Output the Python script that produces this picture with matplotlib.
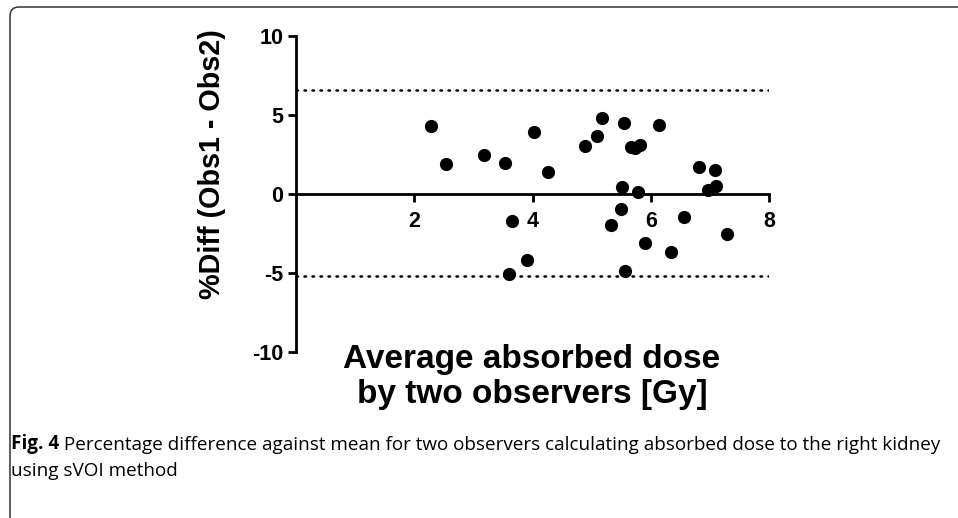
"""
Bland-Altman style plot: %Diff between two observers vs mean absorbed dose (right kidney, sVOI)
"""

import matplotlib.pyplot as plt
from matplotlib.patches import FancyBboxPatch

plt.rcParams['font.family'] = ['Liberation Sans', 'DejaVu Sans']
plt.rcParams['axes.unicode_minus'] = False

# values
mean_dose = [2.29, 2.54, 3.18, 3.54, 4.03, 4.27, 3.66, 3.90, 3.60, 4.88,
             5.09, 5.17, 5.54, 6.14, 5.66, 5.74, 5.82, 5.52, 5.79, 5.50,
             5.32, 5.56, 5.91, 6.35, 6.56, 6.82, 7.09, 7.11, 6.96, 7.29]
pct_diff = [4.28, 1.90, 2.44, 1.94, 3.94, 1.37, -1.71, -4.18, -5.06, 3.04,
            3.69, 4.81, 4.47, 4.39, 2.95, 2.91, 3.08, 0.46, 0.13, -0.95,
            -1.94, -4.90, -3.12, -3.69, -1.44, 1.71, 1.52, 0.51, 0.25, -2.53]
limits_of_agreement = [6.58, -5.17]

x_ticks = [2, 4, 6, 8]
y_ticks = [-10, -5, 0, 5, 10]

W, H = 958, 518
fig = plt.figure(figsize=(W / 100, H / 100), dpi=100)
ax = fig.add_axes([296 / W, 1 - 352 / H, (769 - 296) / W, (352 - 36) / H])

ax.scatter(mean_dose, pct_diff, s=72, color='black', zorder=3, clip_on=False)
for lim in limits_of_agreement:
    ax.axhline(lim, color='black', lw=1.8, ls=(0, (0.6, 2.6)),
               dash_capstyle='round')

ax.set_xlim(0, 8)
ax.set_ylim(-10, 10)
ax.set_xticks(x_ticks)
ax.set_yticks(y_ticks)

for s in ['top', 'right']:
    ax.spines[s].set_visible(False)
ax.spines['bottom'].set_position(('data', 0))
for s in ['left', 'bottom']:
    ax.spines[s].set_linewidth(2.0)

ax.tick_params(axis='both', width=2.0, length=6, labelsize=15.5)
ax.tick_params(axis='x', direction='out', pad=6)
ax.tick_params(axis='y', pad=3)
for lab in ax.get_xticklabels() + ax.get_yticklabels():
    lab.set_fontweight('bold')

# axis titles
fig.text(212 / W, 1 - 164 / H, '%Diff (Obs1 - Obs2)', rotation=90,
         ha='center', va='center', fontsize=20.7, fontweight='bold')
fig.text(532 / W, 1 - 377 / H, 'Average absorbed dose\nby two observers [Gy]',
         ha='center', va='center', fontsize=24, fontweight='bold',
         linespacing=1.15)

# caption
cap_font = ['Open Sans', 'DejaVu Sans']
t1 = fig.text(11 / W, 1 - 444 / H, 'Fig. 4', ha='left', va='center',
              fontsize=13.6, fontweight='bold', family=cap_font)
ax.annotate(' Percentage difference against mean for two observers calculating '
            'absorbed dose to the right kidney',
            xy=(1, 0), xycoords=t1, ha='left', va='bottom',
            fontsize=13.6, family=cap_font, annotation_clip=False)
fig.text(11 / W, 1 - 471 / H, 'using sVOI method', ha='left', va='center',
         fontsize=13.6, family=cap_font)

# panel frame (rounded top-left, open to the right / bottom)
frame = FancyBboxPatch((10, -14), 1000, 525,
                       boxstyle='round,pad=0,rounding_size=9',
                       transform=None, fill=False, edgecolor='#333333',
                       lw=1.1)
fig.add_artist(frame)

plt.savefig('out.png', dpi=100)
